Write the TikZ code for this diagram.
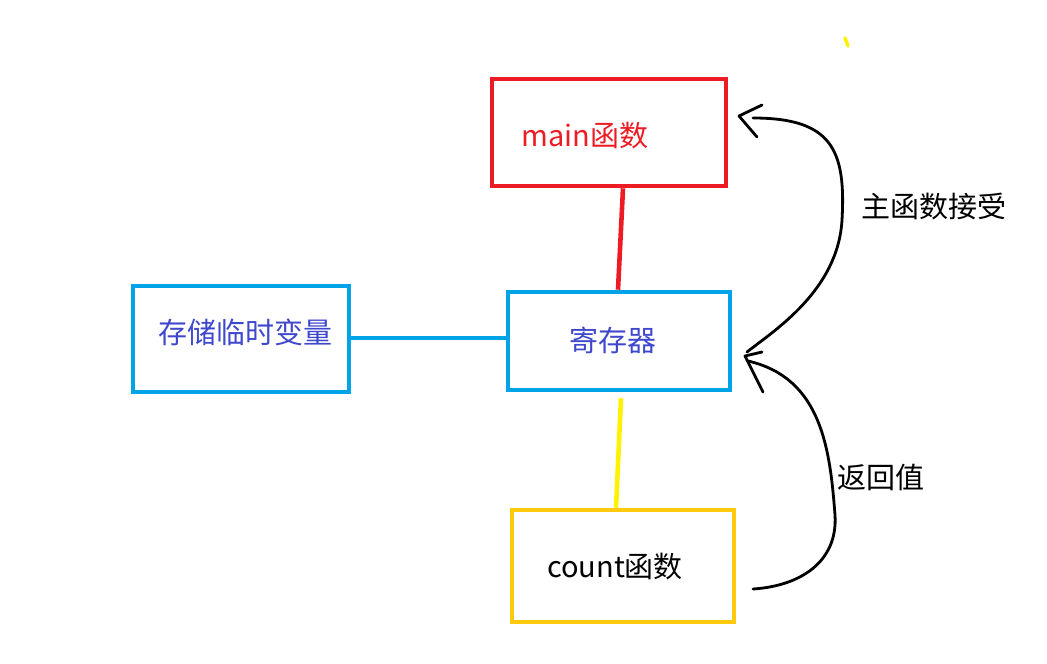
\documentclass[tikz,border=0pt]{standalone}
\usepackage{fontspec}
\setmainfont{Noto Sans CJK SC}
\usetikzlibrary{calc}
\definecolor{cred}{HTML}{ED1C24}
\definecolor{cblue}{HTML}{00A2E8}
\definecolor{ctext}{HTML}{3F48CC}
\definecolor{cgold}{HTML}{FFC90E}
\definecolor{cyel}{HTML}{FFF200}
\begin{document}
\begin{tikzpicture}[x=1pt,y=-1pt,
  box/.style={draw,line width=4.6pt,inner sep=0pt},
  lbl/.style={font=\fontsize{29}{34}\selectfont,inner sep=0pt},
  link/.style={line width=4.6pt},
  hand/.style={line width=2.8pt,line cap=round,line join=round}]
\useasboundingbox (0,0) rectangle (1047,664);
% boxes
\node[box,cred,minimum width=234pt,minimum height=107pt] (main) at (609,132.5) {};
\node[box,cblue,minimum width=222pt,minimum height=98pt] (reg) at (619,341) {};
\node[box,cblue,minimum width=216pt,minimum height=106pt] (tmp) at (241,339) {};
\node[box,cgold,minimum width=222pt,minimum height=112pt] (cnt) at (623,566) {};
% texts
\node[lbl,text=cred] (mainT) at (585,136) {main函数};
\node[lbl,text=ctext] (regT) at (613,340) {寄存器};
\node[lbl,text=ctext] (tmpT) at (245,332) {存储临时变量};
\node[lbl,text=black] (cntT) at (615,567) {count函数};
\node[lbl,text=black] (upT) at (934,206) {主函数接受};
\node[lbl,text=black] (dnT) at (881,477) {返回值};
% connectors
\draw[link,cred] ($(main.south)+(14,0)$) -- ($(reg.north)+(-1,0)$);
\draw[link,cblue] (tmp.east |- 0,338) -- (reg.west |- 0,338);
\draw[link,cyel] ($(reg.south)+(2,6)$) -- ($(cnt.north)+(-7,0)$);
% stray yellow mark
\coordinate (m1) at (845,38);
\coordinate (m2) at (848,46);
\draw[cyel,line width=3.5pt,line cap=round] (m1) -- (m2);
% hand-drawn arrows
\coordinate (tipM) at (739,116);
\coordinate (tipR) at (745,356);
\coordinate (cEnd) at (753,589);
\draw[hand] (747,352) .. controls (775,330) and (838,290) .. (842,220)
  .. controls (846,150) and (832,118) .. (753,118);
\draw[hand] (762,105) -- (tipM) -- (757,137);
\draw[hand] (cEnd) .. controls (800,586) and (838,562) .. (835,515)
  .. controls (830,450) and (822,378) .. (748,361);
\draw[hand] (762,352) -- (tipR) -- (748,362) -- (763,392);
\end{tikzpicture}
\end{document}
